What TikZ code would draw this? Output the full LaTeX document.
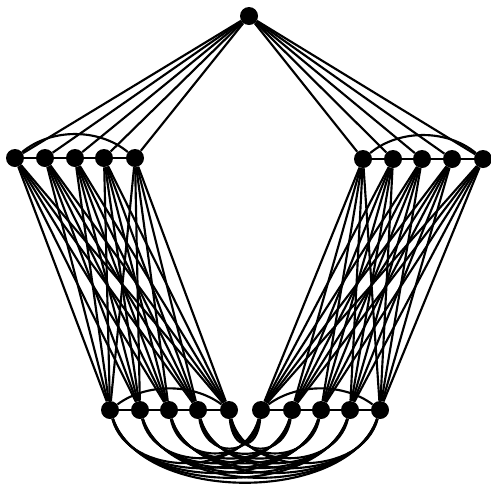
\documentclass[tikz,border=0pt]{standalone}
\usetikzlibrary{calc}
\begin{document}
\begin{tikzpicture}[x=0.75pt,y=-0.75pt,
  vtx/.style={circle,fill=black,inner sep=0pt,minimum size=13.5pt},
  edge/.style={line width=1.6pt,black}]
\useasboundingbox (0,0) rectangle (491,490);
\node[vtx] (t) at (249,16) {};
\foreach \x [count=\i] in {15,45,75,104,135} \node[vtx] (a\i) at (\x,158) {};
\foreach \x [count=\i] in {363,393,422,452,483} \node[vtx] (d\i) at (\x,159) {};
\foreach \x [count=\i] in {110,140,169,198,229} \node[vtx] (b\i) at (\x,410) {};
\foreach \x [count=\i] in {261,292,321,350,380} \node[vtx] (c\i) at (\x,410) {};
% top to upper groups
\foreach \i in {1,...,5} {\draw[edge] (t) -- (a\i); \draw[edge] (t) -- (d\i);}
% complete bipartite between upper and lower groups
\foreach \i in {1,...,5} \foreach \j in {1,...,5} {\draw[edge] (a\i) -- (b\j); \draw[edge] (d\i) -- (c\j);}
% cycles
\draw[edge] (a1) -- (a2) -- (a3) -- (a4) -- (a5);
\draw[edge] (a1) .. controls +(36,-30) and +(-36,-30) .. (a5);
\draw[edge] (d1) -- (d2) -- (d3) -- (d4) -- (d5);
\draw[edge] (d1) .. controls +(36,-30) and +(-36,-30) .. (d5);
\draw[edge] (b1) -- (b2) -- (b3) -- (b4) -- (b5);
\draw[edge] (b1) .. controls +(36,-27) and +(-36,-27) .. (b5);
\draw[edge] (c1) -- (c2) -- (c3) -- (c4) -- (c5);
\draw[edge] (c1) .. controls +(36,-27) and +(-36,-27) .. (c5);
% bottom curves
\foreach \xb [count=\i] in {110,140,169,198,229} {
  \foreach \xc [count=\j] in {261,292,321,350,380} {
    \pgfmathsetmacro\L{\xc-\xb}
    \pgfmathsetmacro\k{(26+0.165*\L)/0.75}
    \pgfmathsetmacro\dx{0.12*\L}
    \draw[edge] (b\i) .. controls +(\dx,\k) and +(-\dx,\k) .. (c\j);
  }
}
\end{tikzpicture}
\end{document}
